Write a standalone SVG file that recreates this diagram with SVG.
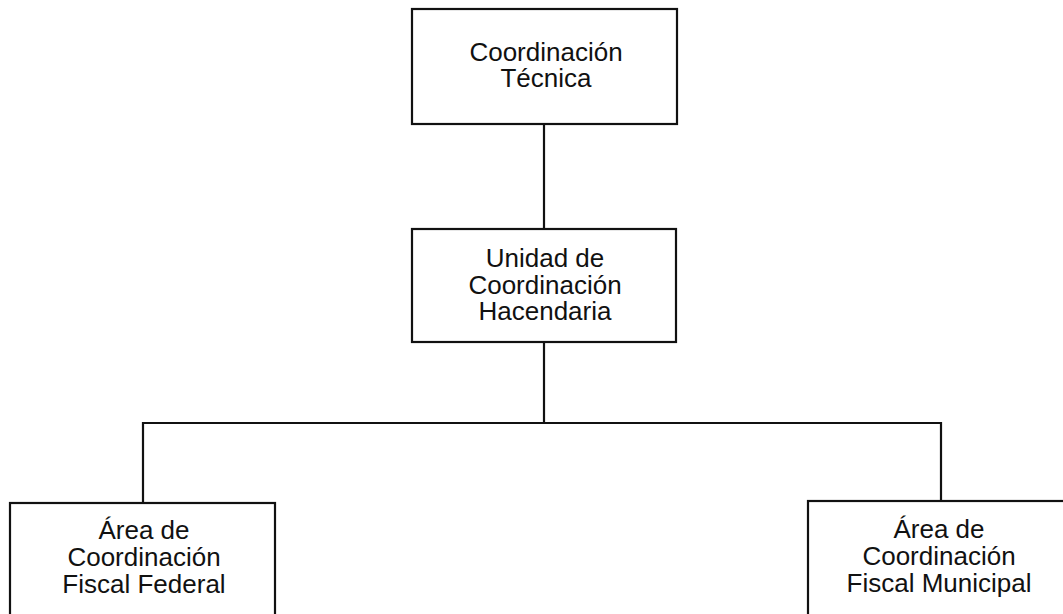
<svg xmlns="http://www.w3.org/2000/svg" width="1063" height="614" viewBox="0 0 1063 614">
<style>
.box{fill:#fff;stroke:#111;stroke-width:2.2}
.ln{fill:none;stroke:#111;stroke-width:2.2}
text{font-family:"Liberation Sans",Arial,sans-serif;font-size:26px;fill:#111;text-anchor:middle}
</style>
<rect width="1063" height="614" fill="#fff"/>
<g id="connectors">
<line class="ln" x1="544" y1="124" x2="544" y2="229"/>
<line class="ln" x1="544" y1="342" x2="544" y2="423"/>
<polyline class="ln" points="143,503 143,423 941,423 941,501"/>
</g>
<g id="node-coordinacion-tecnica">
<rect class="box" x="412" y="9" width="265" height="115"/>
<text x="546" y="61">Coordinación</text>
<text x="546" y="87">Técnica</text>
</g>
<g id="node-unidad">
<rect class="box" x="412" y="229" width="264" height="113"/>
<text x="545" y="267">Unidad de</text>
<text x="545" y="293.5">Coordinación</text>
<text x="545" y="320">Hacendaria</text>
</g>
<g id="node-fiscal-federal">
<rect class="box" x="10" y="503" width="265" height="130"/>
<text x="144" y="538.5">Área de</text>
<text x="144" y="565.5">Coordinación</text>
<text x="144" y="592.5">Fiscal Federal</text>
</g>
<g id="node-fiscal-municipal">
<rect class="box" x="808" y="501" width="265" height="130"/>
<text x="939" y="538">Área de</text>
<text x="939" y="565">Coordinación</text>
<text x="939" y="592">Fiscal Municipal</text>
</g>
</svg>
